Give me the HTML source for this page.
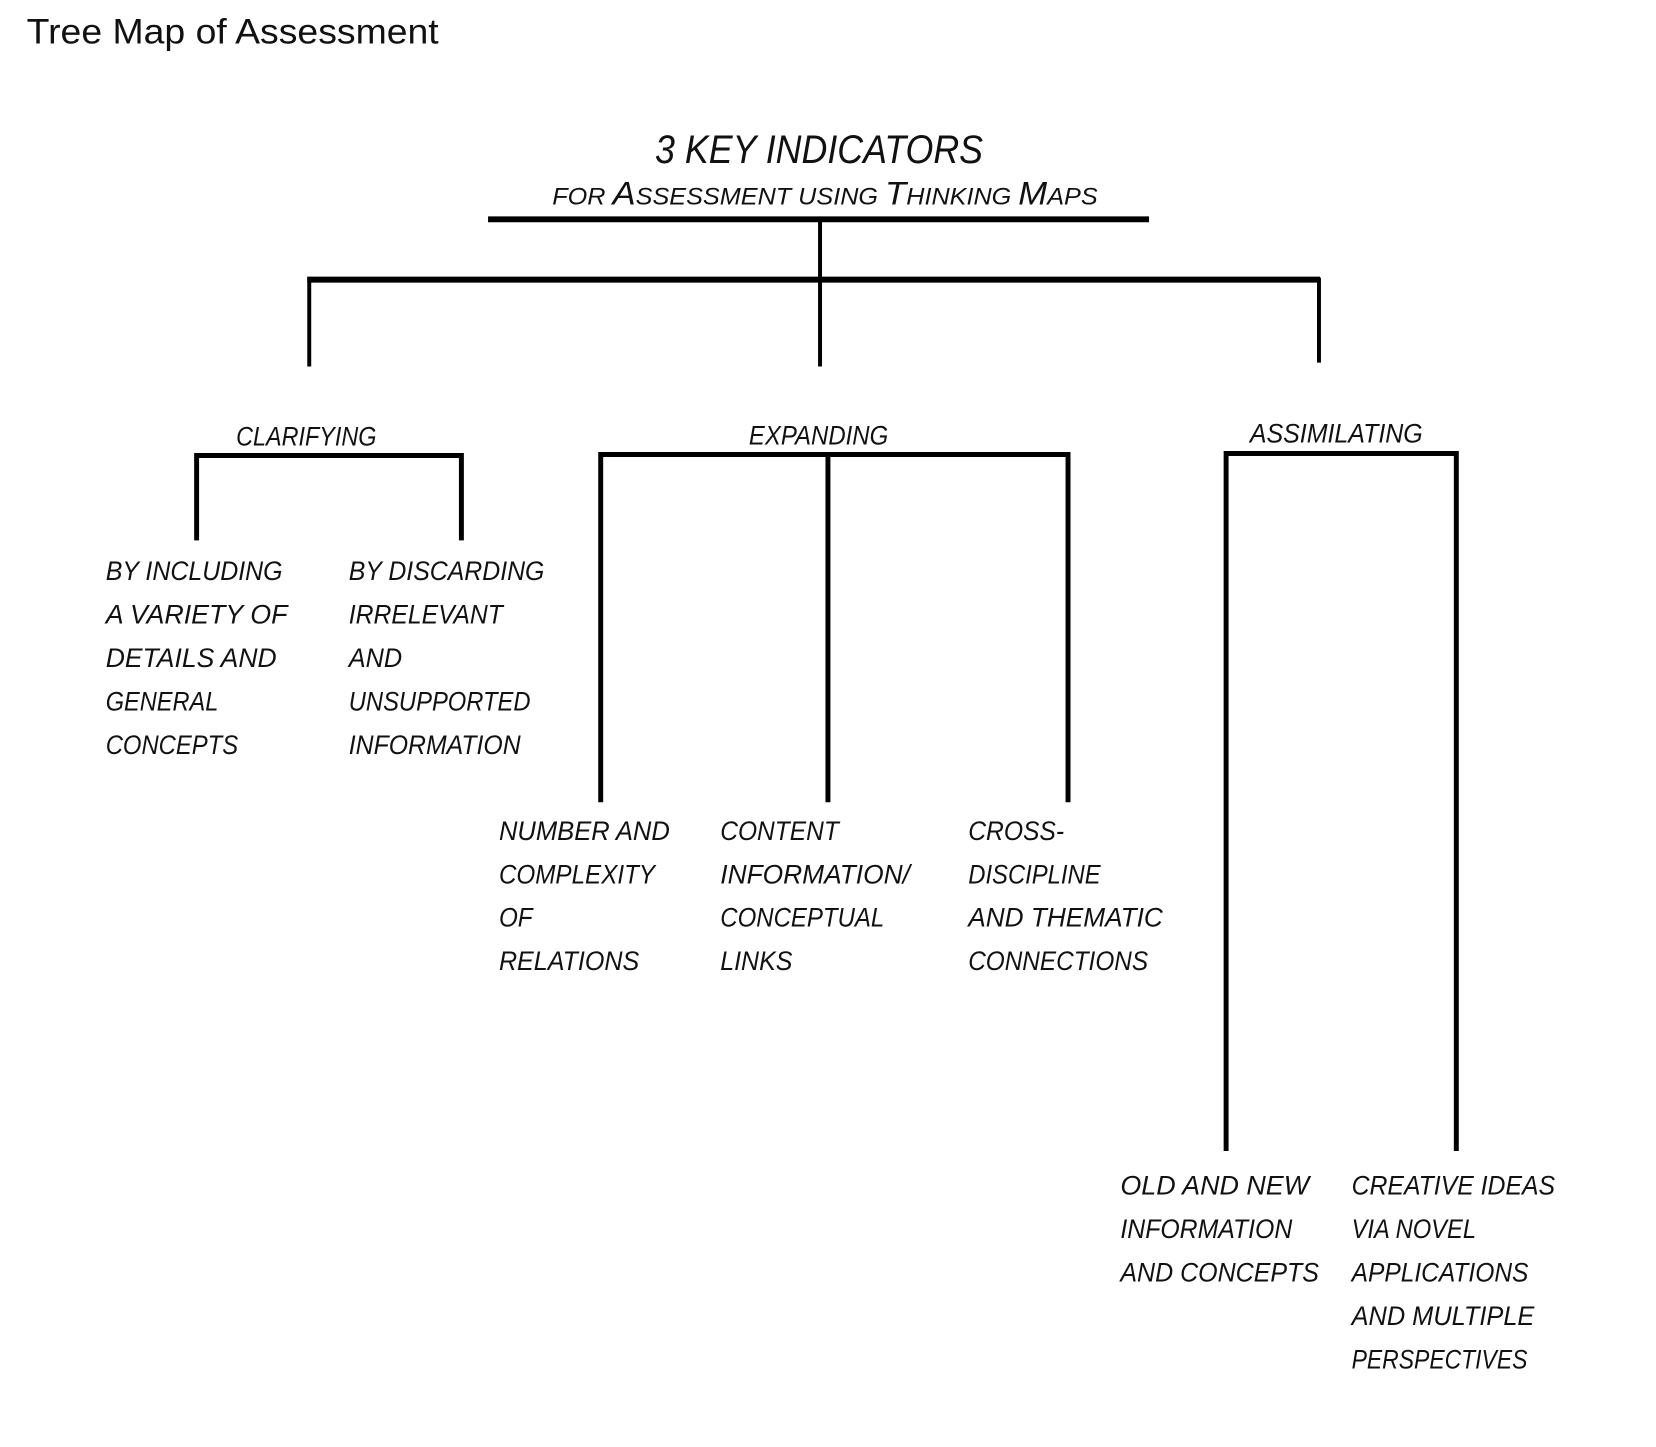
<!DOCTYPE html>
<html><head><meta charset="utf-8"><style>
html,body{margin:0;padding:0;background:#fff;}
svg{display:block;}
text{font-family:"Liberation Sans",sans-serif;fill:#111;}
.n{font-style:italic;font-size:27px;}
</style></head><body>
<svg width="1656" height="1447" viewBox="0 0 1656 1447" xmlns="http://www.w3.org/2000/svg">
<g transform="scale(0.988)">
<text x="27" y="44" font-size="36" textLength="417" lengthAdjust="spacingAndGlyphs">Tree Map of Assessment</text>
<text x="663" y="165" font-size="40" font-style="italic" textLength="332" lengthAdjust="spacingAndGlyphs">3 KEY INDICATORS</text>
<text x="559" y="207" font-style="italic" textLength="552" lengthAdjust="spacingAndGlyphs"><tspan font-size="24">FOR </tspan><tspan font-size="33">A</tspan><tspan font-size="24">SSESSMENT USING </tspan><tspan font-size="33">T</tspan><tspan font-size="24">HINKING </tspan><tspan font-size="33">M</tspan><tspan font-size="24">APS</tspan></text>
<g stroke="#000" fill="none">
<line x1="494" y1="222" x2="1163" y2="222" stroke-width="6"/>
<line x1="830" y1="222" x2="830" y2="371" stroke-width="4"/>
<line x1="311" y1="283" x2="1336" y2="283" stroke-width="6"/>
<line x1="313" y1="281" x2="313" y2="371" stroke-width="4"/>
<line x1="1335" y1="281" x2="1335" y2="367" stroke-width="4"/>
<path d="M199 547 V461 H467 V547" stroke-width="5"/>
<path d="M608 812 V460 H1081 V812" stroke-width="5"/>
<line x1="838" y1="460" x2="838" y2="812" stroke-width="5"/>
<path d="M1241 1165 V459 H1474 V1165" stroke-width="5"/>
</g>
<text class="n" x="239" y="451" font-size="26" textLength="142" lengthAdjust="spacingAndGlyphs">CLARIFYING</text>
<text class="n" x="758" y="450" font-size="26" textLength="141" lengthAdjust="spacingAndGlyphs">EXPANDING</text>
<text class="n" x="1265" y="448" font-size="26" textLength="175" lengthAdjust="spacingAndGlyphs">ASSIMILATING</text>

<text class="n" x="107" y="587" textLength="179" lengthAdjust="spacingAndGlyphs">BY INCLUDING</text>
<text class="n" x="107" y="631" textLength="184" lengthAdjust="spacingAndGlyphs">A VARIETY OF</text>
<text class="n" x="107" y="675" textLength="173" lengthAdjust="spacingAndGlyphs">DETAILS AND</text>
<text class="n" x="107" y="719" textLength="114" lengthAdjust="spacingAndGlyphs">GENERAL</text>
<text class="n" x="107" y="763" textLength="134" lengthAdjust="spacingAndGlyphs">CONCEPTS</text>

<text class="n" x="353" y="587" textLength="198" lengthAdjust="spacingAndGlyphs">BY DISCARDING</text>
<text class="n" x="353" y="631" textLength="156" lengthAdjust="spacingAndGlyphs">IRRELEVANT</text>
<text class="n" x="353" y="675" textLength="54" lengthAdjust="spacingAndGlyphs">AND</text>
<text class="n" x="353" y="719" textLength="184" lengthAdjust="spacingAndGlyphs">UNSUPPORTED</text>
<text class="n" x="353" y="763" textLength="174" lengthAdjust="spacingAndGlyphs">INFORMATION</text>

<text class="n" x="505" y="850" textLength="173" lengthAdjust="spacingAndGlyphs">NUMBER AND</text>
<text class="n" x="505" y="894" textLength="158" lengthAdjust="spacingAndGlyphs">COMPLEXITY</text>
<text class="n" x="505" y="938" textLength="34" lengthAdjust="spacingAndGlyphs">OF</text>
<text class="n" x="505" y="982" textLength="142" lengthAdjust="spacingAndGlyphs">RELATIONS</text>

<text class="n" x="729" y="850" textLength="120" lengthAdjust="spacingAndGlyphs">CONTENT</text>
<text class="n" x="729" y="894" textLength="192" lengthAdjust="spacingAndGlyphs">INFORMATION/</text>
<text class="n" x="729" y="938" textLength="166" lengthAdjust="spacingAndGlyphs">CONCEPTUAL</text>
<text class="n" x="729" y="982" textLength="73" lengthAdjust="spacingAndGlyphs">LINKS</text>

<text class="n" x="980" y="850" textLength="97" lengthAdjust="spacingAndGlyphs">CROSS-</text>
<text class="n" x="980" y="894" textLength="134" lengthAdjust="spacingAndGlyphs">DISCIPLINE</text>
<text class="n" x="980" y="938" textLength="197" lengthAdjust="spacingAndGlyphs">AND THEMATIC</text>
<text class="n" x="980" y="982" textLength="182" lengthAdjust="spacingAndGlyphs">CONNECTIONS</text>

<text class="n" x="1134" y="1209" textLength="191" lengthAdjust="spacingAndGlyphs">OLD AND NEW</text>
<text class="n" x="1134" y="1253" textLength="174" lengthAdjust="spacingAndGlyphs">INFORMATION</text>
<text class="n" x="1134" y="1297" textLength="201" lengthAdjust="spacingAndGlyphs">AND CONCEPTS</text>

<text class="n" x="1368" y="1209" textLength="206" lengthAdjust="spacingAndGlyphs">CREATIVE IDEAS</text>
<text class="n" x="1368" y="1253" textLength="126" lengthAdjust="spacingAndGlyphs">VIA NOVEL</text>
<text class="n" x="1368" y="1297" textLength="179" lengthAdjust="spacingAndGlyphs">APPLICATIONS</text>
<text class="n" x="1368" y="1341" textLength="185" lengthAdjust="spacingAndGlyphs">AND MULTIPLE</text>
<text class="n" x="1368" y="1385" textLength="178" lengthAdjust="spacingAndGlyphs">PERSPECTIVES</text>
</g>
</svg>
</body></html>
